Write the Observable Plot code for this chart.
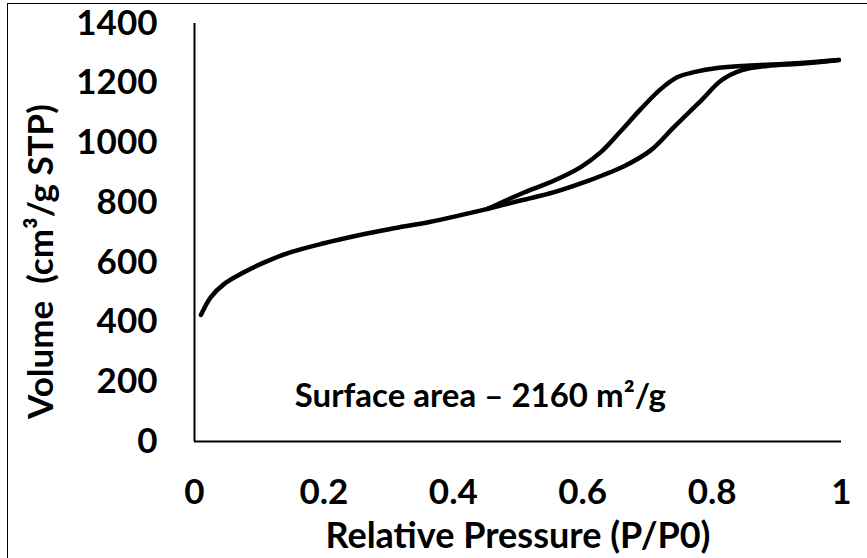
<!DOCTYPE html>
<html>
<head>
<meta charset="utf-8">
<script src="https://cdn.jsdelivr.net/npm/d3@7"></script>
<script src="https://cdn.jsdelivr.net/npm/@observablehq/plot@0.6"></script>
<style>
  html, body { margin: 0; padding: 0; background: #fff; }
  #wrap { position: relative; width: 867px; height: 558px; overflow: hidden; }
  #edge { position: absolute; left: 7px; top: 3px; right: -10px; bottom: -10px;
          border-left: 1.5px solid #000; border-top: 1.5px solid #000; pointer-events: none; }
  svg { display: block; }
</style>
</head>
<body>
<div id="wrap"><div id="edge"></div></div>
<script>
// Adsorption branch (relative pressure, volume)
const adsP = [0.010, 0.025, 0.046, 0.072, 0.108, 0.149, 0.200, 0.252, 0.303, 0.365, 0.453, 0.504, 0.556, 0.607, 0.630, 0.664, 0.705, 0.741, 0.783, 0.814, 0.845, 0.885, 0.940, 0.996];
const adsV = [424, 483, 528, 562, 600, 634, 664, 690, 712, 736, 779, 807, 835, 872, 891, 922, 975, 1053, 1142, 1209, 1243, 1258, 1266, 1278];
// Desorption branch
const desP = [0.996, 0.930, 0.859, 0.808, 0.772, 0.746, 0.721, 0.690, 0.659, 0.628, 0.597, 0.556, 0.504, 0.453];
const desV = [1278, 1267, 1259, 1251, 1237, 1220, 1181, 1114, 1040, 969, 919, 874, 829, 779];

const xTicks = [0, 0.2, 0.4, 0.6, 0.8, 1];
const yTicks = [0, 200, 400, 600, 800, 1000, 1200, 1400];
const xTitle = "Relative Pressure (P/P0)";
const yTitle = "Volume  (cm³/g STP)";
const note = "Surface area – 2160 m²/g";
const noteAt = {x: 0.155, y: 152};

const ads = adsP.map((p, i) => ({p, v: adsV[i]}));
const des = desP.map((p, i) => ({p, v: desV[i]}));

const FONT = "Lato, 'Open Sans', sans-serif";
const FS = 35;

const chart = Plot.plot({
  width: 867,
  height: 558,
  marginLeft: 194,
  marginRight: 26,
  marginTop: 23,
  marginBottom: 117,
  style: {fontFamily: FONT, fontWeight: "bold", fontSize: FS + "px", color: "#000", background: "transparent"},
  x: {domain: [0, 1]},
  y: {domain: [0, 1400]},
  marks: [
    Plot.axisX({ticks: xTicks, tickFormat: d => String(d), tickSize: 0, tickPadding: 38, label: null, fontSize: FS, fontWeight: "bold", fill: "#000"}),
    Plot.axisY({ticks: yTicks, tickFormat: d => String(d), tickSize: 0, tickPadding: 37, label: null, fontSize: FS, fontWeight: "bold", fill: "#000"}),
    Plot.ruleX([0], {stroke: "#000", strokeWidth: 2}),
    Plot.ruleY([0], {stroke: "#000", strokeWidth: 2}),
    Plot.line(ads, {x: "p", y: "v", curve: "catmull-rom", stroke: "#000", strokeWidth: 4.5, strokeLinecap: "round", strokeLinejoin: "round"}),
    Plot.line(des, {x: "p", y: "v", curve: "catmull-rom", stroke: "#000", strokeWidth: 4.5, strokeLinecap: "round", strokeLinejoin: "round"}),
    Plot.text([note], {x: () => noteAt.x, y: () => noteAt.y, text: d => d, textAnchor: "start", lineAnchor: "middle", fontSize: 33, fontWeight: "bold", fill: "#000"}),
    Plot.text([xTitle], {frameAnchor: "bottom", text: d => d, textAnchor: "middle", lineAnchor: "middle", dy: 95, fontSize: 36, fontWeight: "bold", fill: "#000"}),
    Plot.text([yTitle], {frameAnchor: "left", text: d => d, textAnchor: "middle", rotate: -90, lineAnchor: "middle", dx: -153, dy: 29, fontSize: 35, fontWeight: "bold", fill: "#000"})
  ]
});
document.getElementById("wrap").prepend(chart);
</script>
</body>
</html>
